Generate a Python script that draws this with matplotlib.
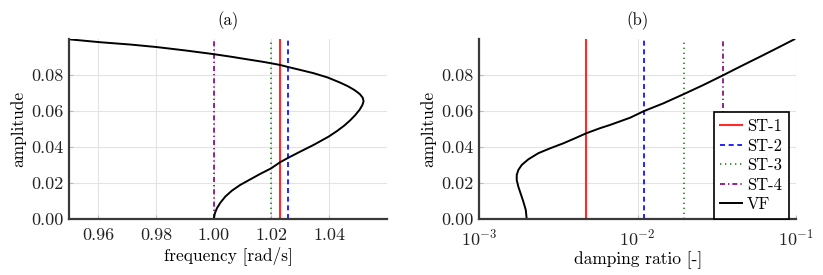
import matplotlib
matplotlib.use("Agg")
import matplotlib.pyplot as plt
from matplotlib.ticker import FixedLocator, NullLocator

plt.rcParams['font.family'] = ['cmr10', 'DejaVu Serif']
plt.rcParams['mathtext.fontset'] = 'cm'
plt.rcParams['axes.formatter.use_mathtext'] = True
plt.rcParams['axes.unicode_minus'] = False

# ---- data ----
# (a) VF backbone: frequency vs amplitude
vf_amp_a = [0.0, 0.0033, 0.0061, 0.0092, 0.0126, 0.0159, 0.0191, 0.0222, 0.0252,
            0.0283, 0.0317, 0.0344, 0.0376, 0.0413, 0.0459, 0.0490, 0.0520, 0.0550,
            0.0580, 0.0610, 0.0635, 0.0655, 0.0675, 0.0695, 0.0718, 0.0740, 0.0760,
            0.0787, 0.0811, 0.0829, 0.0844, 0.0857, 0.0873, 0.0887, 0.0902, 0.0917,
            0.0937, 0.0956, 0.0970, 0.0983, 0.0999]
vf_freq_a = [1.0000, 1.0004, 1.0011, 1.0023, 1.0040, 1.0063, 1.0092, 1.0127, 1.0161,
             1.0199, 1.0230, 1.0261, 1.0300, 1.0346, 1.0398, 1.0427, 1.0452, 1.0473,
             1.0491, 1.0506, 1.0515, 1.0519, 1.0516, 1.0506, 1.0487, 1.0463, 1.0436,
             1.0395, 1.0346, 1.0300, 1.0261, 1.0229, 1.0175, 1.0120, 1.0062, 0.9999,
             0.9903, 0.9803, 0.9712, 0.9606, 0.9500]

# (b) VF: damping ratio vs amplitude
vf_amp_b = [0.0, 0.0052, 0.0098, 0.0141, 0.0181, 0.0218, 0.0246, 0.0274, 0.0302,
            0.0333, 0.0367, 0.0394, 0.0422, 0.0450, 0.0478, 0.0506, 0.0524, 0.0564,
            0.0602, 0.0644, 0.0696, 0.0746, 0.0798, 0.0848, 0.0903, 0.0950, 0.0999]
vf_damp_b = [0.001993, 0.001965, 0.001897, 0.001827, 0.001764, 0.001723, 0.001723,
             0.001764, 0.001854, 0.002040, 0.002360, 0.002798, 0.003396, 0.004027,
             0.004748, 0.005794, 0.006705, 0.008966, 0.01104, 0.01456, 0.01967,
             0.02606, 0.03436, 0.04446, 0.05945, 0.07587, 0.09756]

st_labels = ['ST-1', 'ST-2', 'ST-3', 'ST-4']
st_freq = [1.0228, 1.0259, 1.0198, 1.0000]
st_damp = [0.004748, 0.01104, 0.01967, 0.03436]

# ---- styles ----
st_colors = ['#ff2a2a', '#0000ff', '#1f7f1f', '#800080']
st_lw = [1.5, 1.2, 1.2, 1.2]
st_ls = ['-', (0, (3.0, 2.2)), (0, (0.8, 2.2)), (0, (3.0, 1.8, 0.8, 1.8))]

fig = plt.figure(figsize=(8.23, 2.75), dpi=100)
ax_a = fig.add_axes([0.0842, 0.2025, 0.3860, 0.6545])
ax_b = fig.add_axes([0.5824, 0.2025, 0.3848, 0.6545])

spine_col = '#3a3a3a'
for ax in (ax_a, ax_b):
    for s in ('top', 'right'):
        ax.spines[s].set_visible(False)
    for s in ('left', 'bottom'):
        ax.spines[s].set_color(spine_col)
        ax.spines[s].set_linewidth(1.6)
    ax.grid(True, color='#e3e3e3', linewidth=0.8)
    ax.set_axisbelow(True)
    ax.tick_params(axis='both', direction='in', length=3, width=0.8, color='#bbbbbb',
                   labelsize=13, labelcolor='#222222', pad=4)
    ax.tick_params(axis='x', pad=6)
    ax.set_ylim(0, 0.0999)
    ax.yaxis.set_major_locator(FixedLocator([0.0, 0.02, 0.04, 0.06, 0.08]))
    ax.yaxis.set_major_formatter(plt.FuncFormatter(lambda v, p: f"{v:.2f}"))
    ax.set_ylabel('amplitude', fontsize=12.5, labelpad=4)

# panel (a)
for lab, x, c, lw, ls in zip(st_labels, st_freq, st_colors, st_lw, st_ls):
    ax_a.axvline(x, color=c, lw=lw, linestyle=ls, label=lab)
ax_a.plot(vf_freq_a, vf_amp_a, color='black', lw=1.4, label='VF')
ax_a.set_xlim(0.95, 1.06)
ax_a.xaxis.set_major_locator(FixedLocator([0.96, 0.98, 1.00, 1.02, 1.04]))
ax_a.xaxis.set_major_formatter(plt.FuncFormatter(lambda v, p: f"{v:.2f}"))
ax_a.set_xlabel('frequency [rad/s]', fontsize=12.5, labelpad=2)
ax_a.set_title('(a)', fontsize=12, pad=10)

# panel (b)
for lab, x, c, lw, ls in zip(st_labels, st_damp, st_colors, st_lw, st_ls):
    ax_b.axvline(x, color=c, lw=lw, linestyle=ls, label=lab)
ax_b.plot(vf_damp_b, vf_amp_b, color='black', lw=1.4, label='VF')
ax_b.set_xscale('log')
ax_b.set_xlim(1e-3, 1e-1)
ax_b.xaxis.set_major_locator(FixedLocator([1e-3, 1e-2, 1e-1]))
ax_b.xaxis.set_minor_locator(NullLocator())
ax_b.set_xlabel('damping ratio [-]', fontsize=12.5, labelpad=2)
ax_b.set_title('(b)', fontsize=12, pad=10)

leg = ax_b.legend(loc='lower right', bbox_to_anchor=(0.977, 0.003), fontsize=12,
                  frameon=True, fancybox=False, edgecolor='black', framealpha=1,
                  handlelength=1.3, handletextpad=0.3, labelspacing=0.25,
                  borderpad=0.4, borderaxespad=0.0)
leg.get_frame().set_linewidth(1.2)

fig.savefig('out.png', dpi=100)
